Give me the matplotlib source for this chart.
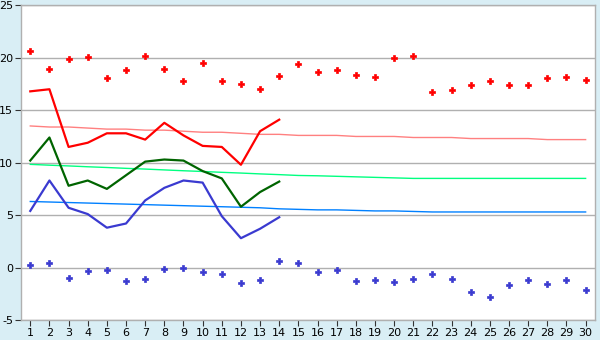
import numpy as np
import matplotlib.pyplot as plt

days = list(range(1, 31))
line_days = list(range(1, 15))

# daily extremes (points)
max_temp = [20.6, 18.9, 19.9, 20.1, 18.1, 18.8, 20.2, 18.9, 17.8, 19.5,
            17.8, 17.5, 17.0, 18.3, 19.4, 18.6, 18.8, 18.4, 18.2, 20.0,
            20.2, 16.7, 16.9, 17.4, 17.8, 17.4, 17.4, 18.1, 18.2, 17.9]
min_temp = [0.2, 0.4, -1.0, -0.3, -0.2, -1.3, -1.1, -0.1, 0.0, -0.4,
            -0.6, -1.5, -1.2, 0.6, 0.4, -0.4, -0.2, -1.3, -1.2, -1.4,
            -1.1, -0.6, -1.1, -2.3, -2.8, -1.7, -1.2, -1.6, -1.2, -2.1]

# current month lines
tmax_line = [16.8, 17.0, 11.5, 11.9, 12.8, 12.8, 12.2, 13.8, 12.6, 11.6, 11.5, 9.8, 13.0, 14.1]
tavg_line = [10.2, 12.4, 7.8, 8.3, 7.5, 8.8, 10.1, 10.3, 10.2, 9.2, 8.5, 5.8, 7.2, 8.2]
tmin_line = [5.4, 8.3, 5.7, 5.1, 3.8, 4.2, 6.4, 7.6, 8.3, 8.1, 4.9, 2.8, 3.7, 4.8]

# normals
norm_max = [13.5, 13.4, 13.4, 13.3, 13.2, 13.2, 13.1, 13.1, 13.0, 12.9,
            12.9, 12.8, 12.7, 12.7, 12.6, 12.6, 12.6, 12.5, 12.5, 12.5,
            12.4, 12.4, 12.4, 12.3, 12.3, 12.3, 12.3, 12.2, 12.2, 12.2]
norm_avg = [9.84, 9.76, 9.69, 9.61, 9.54, 9.46, 9.39, 9.31, 9.23, 9.16,
            9.08, 9.01, 8.93, 8.86, 8.78, 8.75, 8.7, 8.65, 8.6, 8.55,
            8.5, 8.5, 8.5, 8.5, 8.5, 8.5, 8.5, 8.5, 8.5, 8.5]
norm_min = [6.3, 6.25, 6.2, 6.15, 6.1, 6.05, 6.0, 5.95, 5.9, 5.85,
            5.8, 5.75, 5.7, 5.6, 5.55, 5.5, 5.5, 5.45, 5.4, 5.4,
            5.35, 5.3, 5.3, 5.3, 5.3, 5.3, 5.3, 5.3, 5.3, 5.3]

fig = plt.figure(figsize=(6, 3.4), dpi=100, facecolor='#d9eef5')
ax = fig.add_axes([0.0345, 0.0588, 0.9575, 0.9255])
ax.set_facecolor('white')

ax.plot(days, norm_max, color='#ff8080', lw=1.0)
ax.plot(days, norm_avg, color='#00ff80', lw=1.0)
ax.plot(days, norm_min, color='#0080ff', lw=1.0)

ax.plot(line_days, tmax_line, color='#ff0000', lw=1.6)
ax.plot(line_days, tavg_line, color='#006400', lw=1.6)
ax.plot(line_days, tmin_line, color='#3a3ad0', lw=1.6)

ax.plot(days, max_temp, 'P', color='#ff0000', ms=4.2, mew=0.5)
ax.plot(days, min_temp, 'P', color='#3a3ad0', ms=4.2, mew=0.5)

ax.set_xlim(0.5, 30.5)
ax.set_ylim(-5, 25)
ax.set_xticks(days)
ax.set_yticks([-5, 0, 5, 10, 15, 20, 25])
ax.set_yticklabels(['-5', '0', '5', '10', '15', '20', '25'])
ax.yaxis.grid(True, color='#b0b0b0', lw=1.0)
ax.set_axisbelow(True)
for s in ax.spines.values():
    s.set_color('#b0b0b0')
    s.set_linewidth(1.0)
ax.tick_params(axis='both', colors='#333333', labelcolor='black', labelsize=8, length=4, pad=1.5)

fig.savefig('out.png', dpi=100, facecolor=fig.get_facecolor())
